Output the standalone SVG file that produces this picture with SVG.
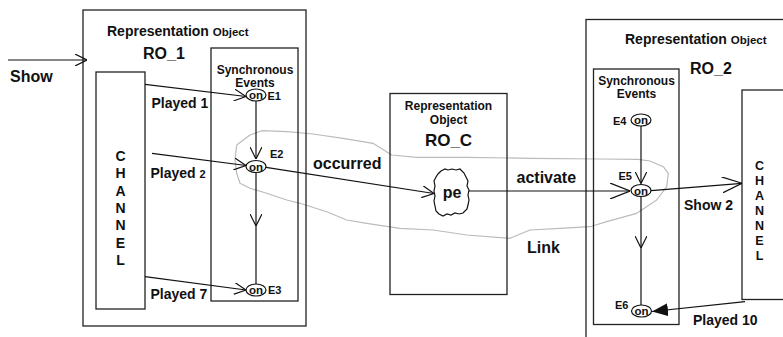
<svg xmlns="http://www.w3.org/2000/svg" width="783" height="337" viewBox="0 0 783 337">
<style>
text{font-family:"Liberation Sans",Arial,sans-serif;font-weight:bold;fill:#111}
.box{fill:none;stroke:#222;stroke-width:1.3}
.ln{fill:none;stroke:#111;stroke-width:1.2}
.ev{fill:#fff;stroke:#111;stroke-width:1.2}
.on{font-size:11.5px;text-anchor:middle}
.lbl{font-size:11px}
.c{text-anchor:middle}
</style>
<defs>
<marker id="ch" viewBox="0 0 12 12" refX="12" refY="6" markerWidth="12" markerHeight="12" markerUnits="userSpaceOnUse" orient="auto">
<path d="M0,0 L12,6 L0,12" fill="none" stroke="#111" stroke-width="1.2"/>
</marker>
<marker id="chb" viewBox="0 0 20 16" refX="20" refY="8" markerWidth="20" markerHeight="16" markerUnits="userSpaceOnUse" orient="auto">
<path d="M0,0 L20,8 L0,16" fill="none" stroke="#111" stroke-width="1.2"/>
</marker>
<marker id="fill" viewBox="0 0 16 13" refX="16" refY="6.5" markerWidth="16" markerHeight="13" markerUnits="userSpaceOnUse" orient="auto">
<path d="M0,0 L16,6.5 L0,13 Z" fill="#111"/>
</marker>
</defs>

<g id="link">
<polyline class="ln" style="stroke:#bbb;stroke-width:1.2;stroke-linejoin:round" points="236.7,145 250,135 261.7,130.7 287,131.7 313,134 343,138.3 373,143.3 391.7,155 416.7,157.3 466.7,157.3 530,158.3 600,159 638,159.3 650,161 663.3,166.7 668.3,173.3 666.7,186.7 656.7,200 636.7,213.3 606.7,221.7 590,226.7 560,228.3 530,230 510,238.3 466.7,235 433.3,230 400,228.3 366.7,223.3 346.7,220 326.7,211.7 300,203.3 286.7,200 266.7,193.3 250,188.3 240,183.3 236.7,173.3 235,160 236.7,145"/>
<text x="527" y="253" font-size="16">Link</text>
</g>

<g id="RO_1">
<rect class="box" x="83" y="10" width="223" height="316"/>
<text x="107" y="36" font-size="14">Representation <tspan font-size="11.5">Object</tspan></text>
<text x="143" y="59" font-size="16">RO_1</text>
</g>

<g id="channel1">
<rect class="box" x="96" y="72" width="49" height="237"/>
<text class="c" font-size="14" x="120.5" y="161">C</text>
<text class="c" font-size="14" x="120.5" y="178.3">H</text>
<text class="c" font-size="14" x="120.5" y="195.6">A</text>
<text class="c" font-size="14" x="120.5" y="212.9">N</text>
<text class="c" font-size="14" x="120.5" y="230.2">N</text>
<text class="c" font-size="14" x="120.5" y="247.5">E</text>
<text class="c" font-size="14" x="120.5" y="264.8">L</text>
</g>

<g id="sync1">
<rect class="box" x="211" y="48" width="87" height="253"/>
<text class="c" font-size="12" x="255" y="74">Synchronous</text>
<text class="c" font-size="12" x="255" y="87">Events</text>
</g>

<g id="E1">
<ellipse class="ev" cx="256" cy="95" rx="10" ry="6"/>
<text class="on" x="256" y="99">on</text>
<text class="lbl" x="267.5" y="99.5">E1</text>
</g>
<g id="E2">
<ellipse class="ev" cx="256" cy="166.5" rx="10" ry="6"/>
<text class="on" x="256" y="170.5">on</text>
<text class="lbl" x="270" y="157.5">E2</text>
</g>
<g id="E3">
<ellipse class="ev" cx="256" cy="290" rx="10" ry="6"/>
<text class="on" x="256" y="294">on</text>
<text class="lbl" x="268" y="293.5">E3</text>
</g>

<g id="RO_C">
<rect class="box" x="390" y="93.5" width="117" height="201"/>
<text class="c" font-size="12" x="448.5" y="110">Representation</text>
<text class="c" font-size="12" x="448.5" y="123.5">Object</text>
<text class="c" font-size="17" x="448.5" y="146">RO_C</text>
</g>
<g id="pe">
<path class="ln" d="M441,171 L445,169 L448,170 L452,169 L456,170 L460,169 L464,173 L466,177 L468,181 L467,186 L469,190 L468,195 L469,200 L468,205 L467,209 L463,213 L459,214 L455,213 L451,215 L447,214 L443,216 L439,214 L436,211 L435,206 L434,201 L435,196 L434,191 L435,186 L434,181 L436,177 L438,174 Z"/>
<text class="c" font-size="16" x="452" y="198">pe</text>
</g>

<g id="RO_2">
<rect class="box" x="586" y="19.5" width="230" height="340"/>
<text x="625" y="43.5" font-size="14">Representation <tspan font-size="11.5">Object</tspan></text>
<text x="690" y="74" font-size="16">RO_2</text>
</g>

<g id="sync2">
<rect class="box" x="593.5" y="69" width="85.5" height="255.5"/>
<text class="c" font-size="12" x="636.5" y="84.5">Synchronous</text>
<text class="c" font-size="12" x="636.5" y="97.5">Events</text>
</g>

<g id="channel2">
<rect class="box" x="742" y="90" width="60" height="209.5"/>
<text class="c" font-size="12.5" x="759.5" y="170">C</text>
<text class="c" font-size="12.5" x="759.5" y="185">H</text>
<text class="c" font-size="12.5" x="759.5" y="200">A</text>
<text class="c" font-size="12.5" x="759.5" y="215">N</text>
<text class="c" font-size="12.5" x="759.5" y="230">N</text>
<text class="c" font-size="12.5" x="759.5" y="245">E</text>
<text class="c" font-size="12.5" x="759.5" y="260">L</text>
</g>

<g id="E4">
<ellipse class="ev" cx="641" cy="120" rx="10" ry="6"/>
<text class="on" x="641" y="124">on</text>
<text class="lbl" x="613" y="124.5">E4</text>
</g>
<g id="E5">
<ellipse class="ev" cx="641" cy="190.5" rx="10" ry="6"/>
<text class="on" x="641" y="194.5">on</text>
<text class="lbl" x="618.5" y="179.5">E5</text>
</g>
<g id="E6">
<ellipse class="ev" cx="641.5" cy="311" rx="10" ry="6"/>
<text class="on" x="641.5" y="315">on</text>
<text class="lbl" x="615" y="308.5">E6</text>
</g>

<g id="connectors">
<line class="ln" x1="8" y1="60" x2="87" y2="60" marker-end="url(#ch)"/>
<line class="ln" x1="145" y1="84.3" x2="246" y2="96.5" marker-end="url(#ch)"/>
<line class="ln" x1="152" y1="153.3" x2="246" y2="165.5" marker-end="url(#ch)"/>
<line class="ln" x1="145" y1="276.7" x2="246" y2="290" marker-end="url(#ch)"/>
<line class="ln" x1="256" y1="101" x2="256" y2="159" marker-end="url(#ch)"/>
<line class="ln" x1="256" y1="172.5" x2="256" y2="226" marker-end="url(#ch)"/>
<line class="ln" x1="256" y1="226" x2="256" y2="284"/>
<line class="ln" x1="266" y1="167.3" x2="434" y2="193.5" marker-end="url(#ch)"/>
<line class="ln" x1="469" y1="191" x2="630" y2="191" marker-end="url(#chb)"/>
<line class="ln" x1="641" y1="126" x2="641" y2="183.5" marker-end="url(#ch)"/>
<line class="ln" x1="641" y1="196.5" x2="641" y2="248" marker-end="url(#ch)"/>
<line class="ln" x1="641" y1="248" x2="641" y2="305"/>
<line class="ln" x1="651" y1="190.7" x2="742" y2="183.3" marker-end="url(#chb)"/>
<line class="ln" x1="745" y1="301.7" x2="652" y2="311.5" marker-end="url(#fill)"/>
<text x="10" y="82" font-size="16">Show</text>
<text x="151.5" y="108" font-size="14">Played 1</text>
<text x="150.5" y="177.5" font-size="14">Played <tspan font-size="11">2</tspan></text>
<text x="150.5" y="299" font-size="14">Played 7</text>
<text x="313" y="169" font-size="16">occurred</text>
<text x="516.5" y="183" font-size="16">activate</text>
<text x="684" y="210" font-size="14">Show 2</text>
<text x="693" y="325" font-size="14">Played 10</text>
</g>
</svg>
